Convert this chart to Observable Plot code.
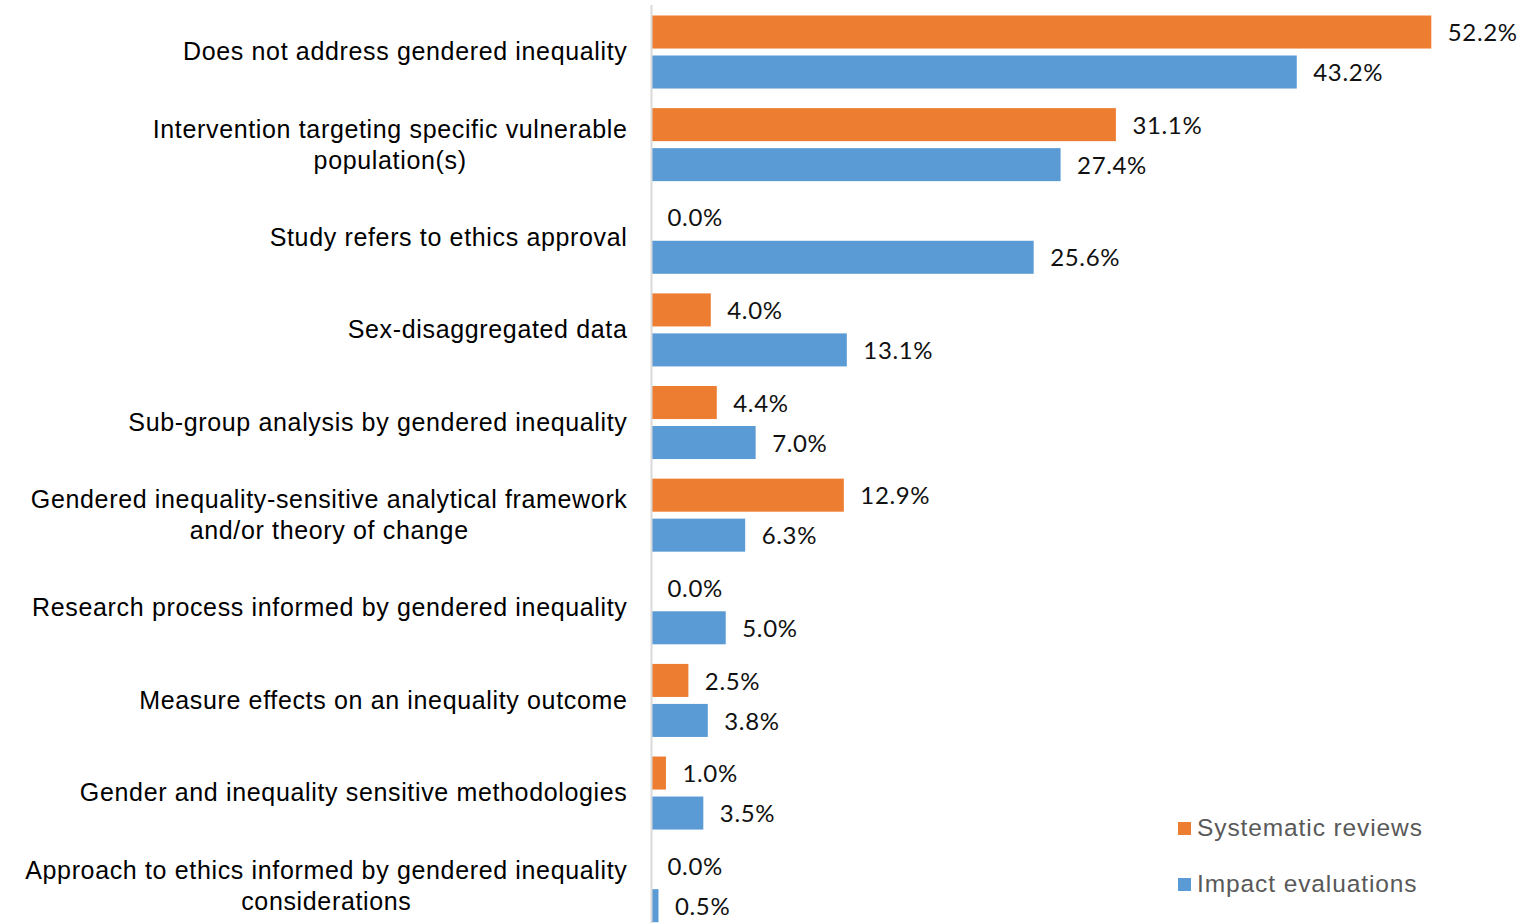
<!DOCTYPE html>
<html>
<head>
<meta charset="utf-8">
<script src="https://cdn.jsdelivr.net/npm/d3@7"></script>
<script src="https://cdn.jsdelivr.net/npm/@observablehq/plot@0.6"></script>
<style>
  html, body { margin: 0; padding: 0; background: #fff; }
  #wrap { position: relative; width: 1530px; height: 923px; overflow: hidden; }
  #chart svg text.vals { letter-spacing: 0.9px; }
  #chart svg text { letter-spacing: 0.65px; }
  #legend { position: absolute; left: 1178px; top: 812px; font-family: "Liberation Sans", Arial, sans-serif; font-size: 24.5px; letter-spacing: 0.9px; color: #595959; }
  #legend .item { display: flex; align-items: center; height: 32px; margin-bottom: 24px; }
  #legend .sw { width: 13px; height: 13px; margin-right: 6px; }
</style>
</head>
<body>
<div id="wrap"><div id="chart"></div><div id="legend"></div></div>
<script>
const categories = [
  "Does not address gendered inequality",
  "Intervention targeting specific vulnerable\npopulation(s)",
  "Study refers to ethics approval",
  "Sex-disaggregated data",
  "Sub-group analysis by gendered inequality",
  "Gendered inequality-sensitive analytical framework\nand/or theory of change",
  "Research process informed by gendered inequality",
  "Measure effects on an inequality outcome",
  "Gender and inequality sensitive methodologies",
  "Approach to ethics informed by gendered inequality\nconsiderations"
];
const systematicReviews = [52.2, 31.1, 0.0, 4.0, 4.4, 12.9, 0.0, 2.5, 1.0, 0.0];
const impactEvaluations = [43.2, 27.4, 25.6, 13.1, 7.0, 6.3, 5.0, 3.8, 3.5, 0.5];
const seriesNames = ["Systematic reviews", "Impact evaluations"];
const seriesColors = ["#ED7D31", "#5B9BD5"];

const sysData = categories.map((c, i) => ({category: c, series: seriesNames[0], value: systematicReviews[i]}));
const impData = categories.map((c, i) => ({category: c, series: seriesNames[1], value: impactEvaluations[i]}));

const labelFont = '"Liberation Sans", Arial, sans-serif';
const labelSize = 25;
const letterSpacing = 0.65;
const valueFont = 'Lato, "Open Sans", sans-serif';
const valueSize = 24;

// measure label widths for centered multi-line blocks
const ctx = document.createElement("canvas").getContext("2d");
ctx.font = `${labelSize}px ${labelFont}`;
const lineWidth = s => ctx.measureText(s).width + s.length * letterSpacing;
const blockWidth = c => Math.max(...c.split("\n").map(lineWidth));

const inset = 29.8;
const off = 20;
const fmt = v => v.toFixed(1) + "%";

const labelMarks = categories.map(c => Plot.text([c], {
  x: () => 0, y: d => d, text: d => d,
  textAnchor: "middle", dx: -24 - blockWidth(c) / 2, dy: -2,
  lineHeight: 1.24, fontSize: labelSize, fontFamily: labelFont, fill: "#000"
}));

const chart = Plot.plot({
  width: 1530,
  height: 923,
  marginTop: 5, marginBottom: 0, marginLeft: 651, marginRight: 12,
  x: {domain: [0, 58], range: [651, 1518], axis: null},
  y: {domain: categories, range: [5.7, 932], padding: 0, round: false, axis: null},
  style: {background: "#fff"},
  marks: [
    Plot.barX(sysData, {x: "value", y: "category", fill: seriesColors[0], insetTop: inset, insetBottom: inset, dy: -off}),
    Plot.barX(impData, {x: "value", y: "category", fill: seriesColors[1], insetTop: inset, insetBottom: inset, dy: off}),
    Plot.ruleX([0], {stroke: "#d9d9d9", strokeWidth: 2}),
    Plot.text(sysData, {x: "value", y: "category", text: d => fmt(d.value), dx: 16, dy: -off + 1, textAnchor: "start", fontSize: valueSize, fontFamily: valueFont, fill: "#111"}),
    Plot.text(impData, {x: "value", y: "category", text: d => fmt(d.value), dx: 16, dy: off + 1, textAnchor: "start", fontSize: valueSize, fontFamily: valueFont, fill: "#111"}),
    ...labelMarks
  ]
});
document.getElementById("chart").appendChild(chart);

const legend = document.getElementById("legend");
seriesNames.forEach((name, i) => {
  const item = document.createElement("div");
  item.className = "item";
  const sw = document.createElement("span");
  sw.className = "sw";
  sw.style.background = seriesColors[i];
  const t = document.createElement("span");
  t.textContent = name;
  item.appendChild(sw); item.appendChild(t);
  legend.appendChild(item);
});
</script>
</body>
</html>
